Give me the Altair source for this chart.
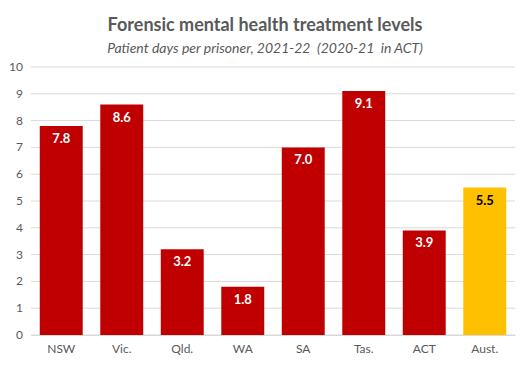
import altair as alt
import pandas as pd

states = ["NSW", "Vic.", "Qld.", "WA", "SA", "Tas.", "ACT", "Aust."]
values = [7.8, 8.6, 3.2, 1.8, 7.0, 9.1, 3.9, 5.5]
kinds = ["state"] * 7 + ["aust"]
y_ticks = [0, 1, 2, 3, 4, 5, 6, 7, 8, 9, 10]

df = pd.DataFrame({"state": states, "value": values, "kind": kinds})
df["label"] = df["value"].map(lambda v: f"{v:.1f}")
ticks_df = pd.DataFrame({"tick": y_ticks})

FONT = "Lato"
GREY = "#595959"

yscale = alt.Scale(domain=[0, 10], nice=False)

grid = alt.Chart(ticks_df).mark_rule(color="#d9d9d9", strokeWidth=1).encode(
    y=alt.Y("tick:Q", scale=yscale, axis=None),
    x=alt.value(0), x2=alt.value(484),
)
ylabels = alt.Chart(ticks_df).mark_text(
    align="right", baseline="middle", font=FONT, fontSize=12, color=GREY
).encode(
    y=alt.Y("tick:Q", scale=yscale, axis=None),
    x=alt.value(-8),
    text=alt.Text("tick:Q"),
)

base = alt.Chart(df).encode(
    x=alt.X("state:N", sort=states, title=None,
            scale=alt.Scale(paddingInner=0.29, paddingOuter=0.145),
            axis=alt.Axis(labelAngle=0, ticks=False, domainColor="#d9d9d9",
                          labelColor=GREY, labelFontSize=12, labelFont=FONT,
                          labelPadding=8, grid=False)),
    y=alt.Y("value:Q", title=None, scale=yscale, axis=None),
)

bars = base.mark_bar().encode(
    color=alt.Color("kind:N", scale=alt.Scale(domain=["state", "aust"],
                                              range=["#C00000", "#FFC000"]),
                    legend=None),
)

labels = base.mark_text(baseline="middle", dy=13, fontWeight="bold",
                        fontSize=13, font=FONT).encode(
    text="label:N",
    color=alt.Color("kind:N", scale=alt.Scale(domain=["state", "aust"],
                                              range=["#ffffff", "#000000"]),
                    legend=None),
)

chart = alt.layer(grid, ylabels, bars, labels).resolve_scale(
    color="independent"
).properties(
    width=484, height=268,
    autosize=alt.AutoSizeParams(type="none"),
    padding={"left": 23, "top": 59, "right": 8, "bottom": 24},
    title=alt.TitleParams(
        "Forensic mental health treatment levels",
        subtitle="Patient days per prisoner, 2021-22\u00a0 (2020-21\u00a0 in ACT)",
        anchor="middle", frame="group", dx=-8, offset=5,
        font=FONT, fontSize=18, fontWeight="bold", color=GREY,
        subtitleFont=FONT, subtitleFontSize=14, subtitleFontStyle="italic",
        subtitleColor=GREY, subtitlePadding=7,
    ),
).configure_view(stroke=None)

chart.save("out.html", embed_options={"renderer": "svg", "actions": False})
